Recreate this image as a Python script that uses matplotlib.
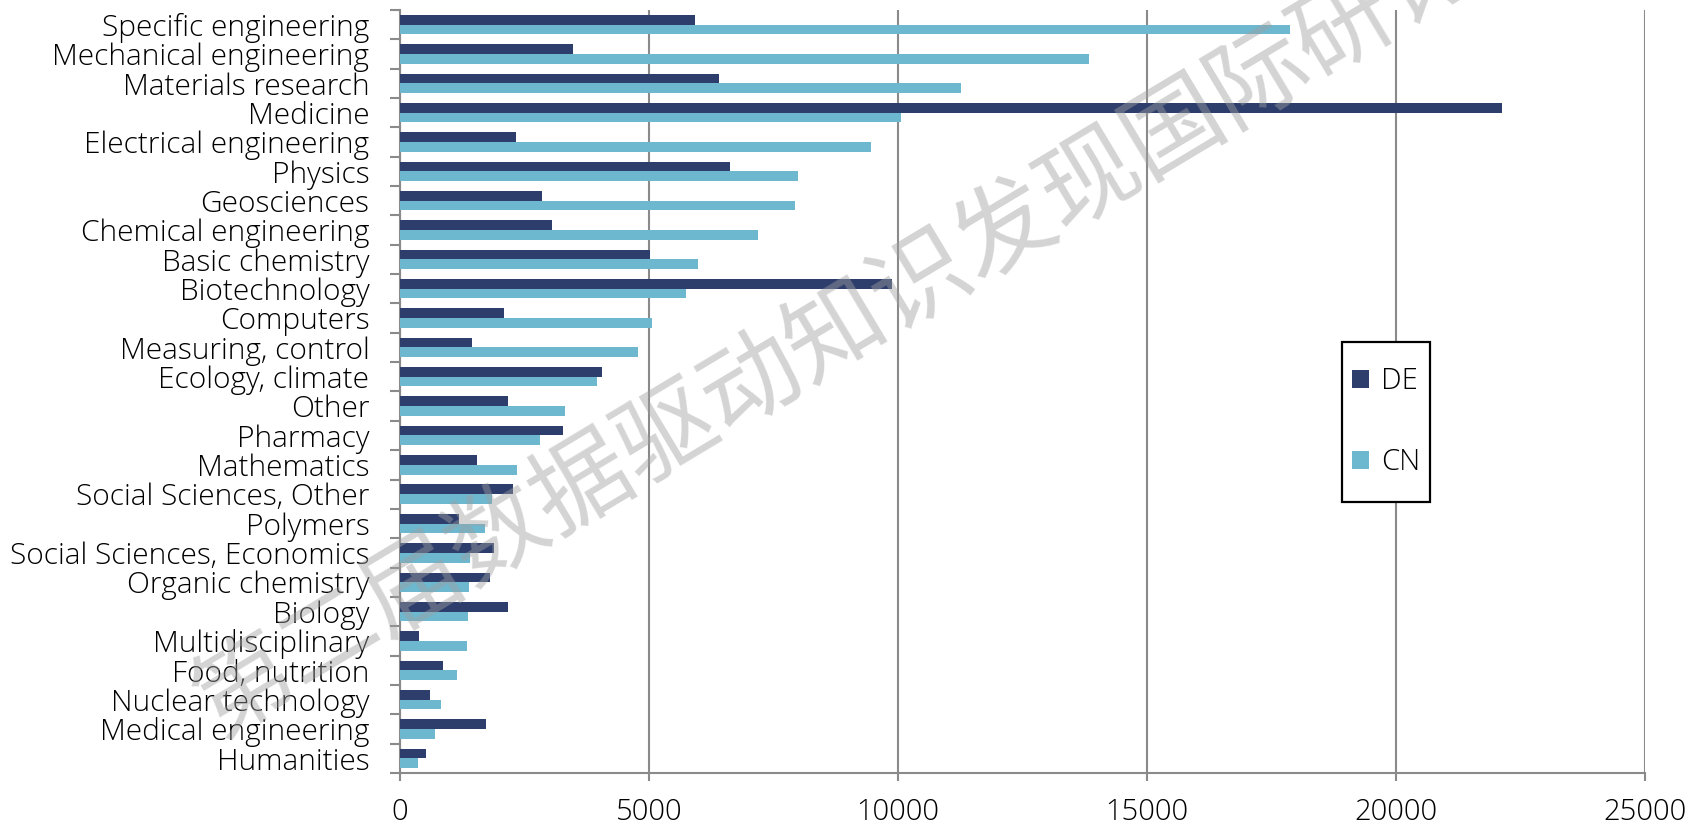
import matplotlib
matplotlib.use('Agg')
import matplotlib.pyplot as plt
import numpy as np
from matplotlib.patches import Rectangle
from matplotlib.ticker import FixedLocator

plt.rcParams['font.family'] = ['Open Sans', 'DejaVu Sans']
plt.rcParams['font.weight'] = 300

# Publications per field, Germany vs China (top to bottom as shown)
fields = [
    'Specific engineering', 'Mechanical engineering', 'Materials research',
    'Medicine', 'Electrical engineering', 'Physics', 'Geosciences',
    'Chemical engineering', 'Basic chemistry', 'Biotechnology', 'Computers',
    'Measuring, control', 'Ecology, climate', 'Other', 'Pharmacy',
    'Mathematics', 'Social Sciences, Other', 'Polymers',
    'Social Sciences, Economics', 'Organic chemistry', 'Biology',
    'Multidisciplinary', 'Food, nutrition', 'Nuclear technology',
    'Medical engineering', 'Humanities',
]
de_values = [5930, 3480, 6410, 22120, 2320, 6630, 2860, 3050, 5020, 9880,
             2080, 1450, 4050, 2160, 3280, 1550, 2270, 1180, 1880, 1810,
             2160, 380, 860, 600, 1730, 520]
cn_values = [17870, 13830, 11270, 10050, 9450, 7990, 7930, 7180, 5980, 5750,
             5050, 4780, 3960, 3310, 2820, 2340, 1850, 1710, 1400, 1380,
             1360, 1350, 1150, 830, 700, 370]
series_names = ['DE', 'CN']
x_ticks = [0, 5000, 10000, 15000, 20000, 25000]

DE_COLOR = '#2e3e6c'
CN_COLOR = '#6db7cf'
GRID_COLOR = '#8a8a8a'
FS = 21

fig = plt.figure(figsize=(17.03, 8.27), dpi=100)
ax = fig.add_axes([0.2349, 0.0653, 0.966 - 0.2349, 0.988 - 0.0653])

n = len(fields)
ypos = np.arange(n)[::-1]
bar_h = 0.33

ax.barh(ypos + bar_h / 2, de_values, height=bar_h, color=DE_COLOR,
        label=series_names[0], zorder=3)
ax.barh(ypos - bar_h / 2, cn_values, height=bar_h, color=CN_COLOR,
        label=series_names[1], zorder=3)

ax.set_xlim(0, 25000)
ax.set_ylim(-0.5, n - 0.5)

ax.set_xticks(x_ticks)
ax.set_xticklabels([str(v) for v in x_ticks])
ax.set_yticks(ypos)
ax.set_yticklabels(fields)
ax.yaxis.set_minor_locator(FixedLocator(np.arange(-0.5, n, 1.0)))

ax.tick_params(axis='y', which='major', length=0, pad=22, labelsize=FS + 0.5)
ax.tick_params(axis='y', which='minor', length=7, width=1.5, color=GRID_COLOR)
ax.tick_params(axis='x', which='major', length=6, width=1.5, color=GRID_COLOR,
               pad=12, labelsize=FS)

ax.xaxis.grid(True, color=GRID_COLOR, linewidth=1.5, zorder=0)
ax.set_axisbelow(True)

for side in ('top', 'right'):
    ax.spines[side].set_visible(False)
for side in ('left', 'bottom'):
    ax.spines[side].set_color(GRID_COLOR)
    ax.spines[side].set_linewidth(1.5)

# legend box drawn separately so it can be taller than the entries need
fig.patches.append(Rectangle((0.788, 0.393), 0.0517, 0.1935,
                             transform=fig.transFigure, facecolor='white',
                             edgecolor='black', linewidth=1.6, zorder=4))
leg = fig.legend(loc='center', bbox_to_anchor=(0.8139, 0.4897),
                 fontsize=FS, frameon=False,
                 handlelength=0.6, handleheight=0.6, handletextpad=0.4,
                 labelspacing=1.78, borderpad=0, borderaxespad=0)
leg.set_zorder(5)

# diagonal watermark
fig.text(0.516, 0.630, '第二届数据驱动知识发现国际研讨会',
         family=['Noto Sans CJK SC', 'DejaVu Sans'], fontsize=71,
         color='#a0a0a0', alpha=0.45, rotation=31, rotation_mode='anchor',
         ha='center', va='center', zorder=10)

fig.savefig('out.png', dpi=100)
